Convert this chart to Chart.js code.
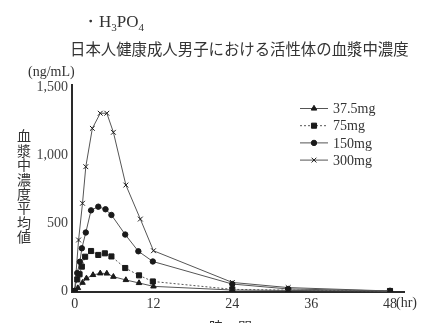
<!DOCTYPE html>
<html>
<head>
<meta charset="utf-8">
<script src="https://cdn.jsdelivr.net/npm/chart.js@4/dist/chart.umd.min.js"></script>
<style>
  html, body { margin: 0; padding: 0; background: #fff; overflow: hidden; }
  #wrap { position: relative; width: 428px; height: 323px; overflow: hidden; }
  canvas { position: absolute; left: 0; top: 0; }
  .t { position: absolute; color: #333; white-space: nowrap; }
  .serif { font-family: "Liberation Serif", "DejaVu Serif", serif; }
  .jp { font-family: "Noto Sans CJK JP", sans-serif; }
</style>
</head>
<body>
<div id="wrap">
  <canvas id="c" width="428" height="323"></canvas>
  <div class="t serif" style="left:82px; top:10px; font-size:17px;">・H<sub style="font-size:11px;">3</sub>PO<sub style="font-size:11px;">4</sub></div>
  <div class="t jp" style="left:70px; top:37px; font-size:15.4px; letter-spacing:0px;">日本人健康成人男子における活性体の血漿中濃度</div>
  <div class="t serif" style="left:28px; top:64px; font-size:14px;">(ng/mL)</div>
  <div class="t jp" style="left:16px; top:129px; font-size:14px; writing-mode:vertical-rl; letter-spacing:0.4px; line-height:16px;">血漿中濃度平均値</div>
  <div class="t serif" style="left:396px; top:295px; font-size:14px;">(hr)</div>
  <div class="t jp" style="left:209px; top:316px; font-size:14px;">時</div>
  <div class="t jp" style="left:238px; top:316px; font-size:14px;">間</div>
</div>
<script>
// ---- data (hours, ng/mL) ----
const doses = ["37.5mg", "75mg", "150mg", "300mg"];
const t37 = [0, 0.5, 1.2, 1.8, 2.8, 3.9, 4.9, 5.9, 7.8, 9.8, 12, 24, 32.5, 48];
const v37 = [0, 22, 61, 93, 118, 130, 129, 105, 81, 59, 34, 7, 4, 0];
const t75 = [0, 0.4, 0.75, 1.1, 1.6, 2.5, 3.6, 4.6, 5.6, 7.7, 9.8, 11.9, 24, 32.5, 48];
const v75 = [0, 85, 123, 179, 252, 294, 265, 277, 254, 169, 115, 70, 12, 6, 0];
const t150 = [0, 0.4, 0.8, 1.1, 1.7, 2.5, 3.6, 4.7, 5.6, 7.7, 9.7, 11.9, 24, 32.5, 48];
const v150 = [0, 132, 215, 314, 430, 593, 620, 601, 559, 415, 292, 217, 51, 15, 0];
const t300 = [0, 0.6, 1.2, 1.7, 2.7, 3.9, 4.9, 5.9, 7.8, 10, 12, 24, 32.5, 48];
const v300 = [0, 375, 645, 914, 1196, 1307, 1307, 1167, 779, 529, 296, 63, 25, 0];
const xTicks = [0, 12, 24, 36, 48];
const yTicks = [0, 500, 1000, 1500];

function pts(t, v) { return t.map((x, i) => ({ x: x, y: v[i] })); }

const lineCol = "#555555";
const markCol = "#1a1a1a";

const datasets = [
  { label: doses[0], data: pts(t37, v37), pointStyle: "triangle", pointRadius: 3.2, borderDash: [] },
  { label: doses[1], data: pts(t75, v75), pointStyle: "rect", pointRadius: 3.6, borderDash: [2, 2] },
  { label: doses[2], data: pts(t150, v150), pointStyle: "circle", pointRadius: 2.7, borderDash: [] },
  { label: doses[3], data: pts(t300, v300), pointStyle: "crossRot", pointRadius: 3.4, borderDash: [] }
].map(d => Object.assign({
  showLine: true,
  borderColor: lineCol,
  borderWidth: 1,
  backgroundColor: markCol,
  pointBackgroundColor: markCol,
  pointBorderColor: markCol,
  pointBorderWidth: 1,
  tension: 0,
  fill: false
}, d));

const legendPlugin = {
  id: "customLegend",
  afterDraw(chart) {
    const ctx = chart.ctx;
    const x0 = 300, x1 = 328, xm = 314, xt = 333;
    const y0 = 108.5, dy = 17.2;
    chart.data.datasets.forEach((ds, i) => {
      const y = y0 + i * dy;
      ctx.save();
      ctx.strokeStyle = ds.borderColor;
      ctx.lineWidth = 1;
      ctx.setLineDash(ds.borderDash || []);
      ctx.beginPath();
      ctx.moveTo(x0, y); ctx.lineTo(x1, y);
      ctx.stroke();
      ctx.setLineDash([]);
      ctx.fillStyle = markCol;
      ctx.strokeStyle = markCol;
      ctx.lineWidth = 1;
      Chart.helpers.drawPoint(ctx, { pointStyle: ds.pointStyle, radius: ds.pointRadius, rotation: 0, borderWidth: 1 }, xm, y);
      ctx.fillStyle = "#333";
      ctx.font = "14px 'Liberation Serif', serif";
      ctx.textBaseline = "middle";
      ctx.textAlign = "left";
      ctx.fillText(ds.label, xt, y + 1);
      ctx.restore();
    });
  }
};

new Chart(document.getElementById("c"), {
  type: "scatter",
  data: { datasets: datasets },
  options: {
    responsive: false,
    animation: false,
    layout: { padding: { left: 0, top: 85, right: 24, bottom: 0 } },
    plugins: { legend: { display: false }, tooltip: { enabled: false } },
    scales: {
      x: {
        type: "linear",
        min: -0.4,
        max: 50.13,
        afterBuildTicks: s => { s.ticks = xTicks.map(v => ({ value: v })); },
        afterFit: s => { s.height = 31; },
        grid: { display: false, drawTicks: false },
        border: { display: true, color: "#2a2a2a", width: 2 },
        ticks: {
          padding: 4,
          color: "#333",
          font: { family: "'Liberation Serif', serif", size: 14 },
          maxRotation: 0,
          callback: v => String(v)
        }
      },
      y: {
        type: "linear",
        min: -7.4,
        max: 1514.7,
        afterBuildTicks: s => { s.ticks = yTicks.map(v => ({ value: v })); },
        afterFit: s => { s.width = 72; },
        grid: { display: false, drawTicks: false },
        border: { display: true, color: "#2a2a2a", width: 2 },
        ticks: {
          padding: 4,
          color: "#444",
          font: { family: "'Liberation Serif', serif", size: 14 },
          callback: v => v.toLocaleString("en-US")
        }
      }
    }
  },
  plugins: [legendPlugin]
});
</script>
</body>
</html>
